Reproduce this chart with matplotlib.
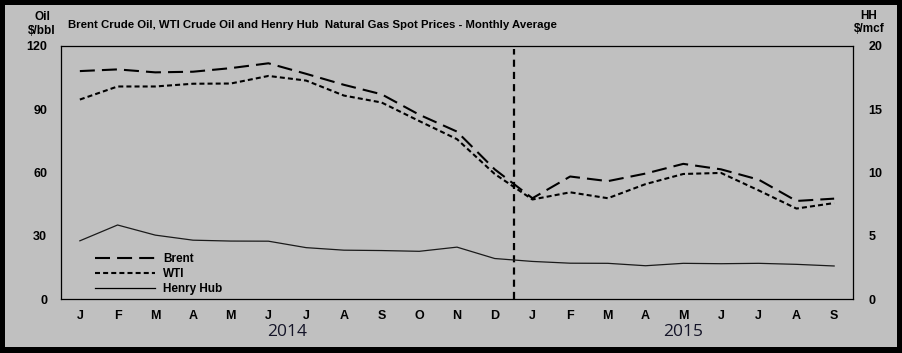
import matplotlib.pyplot as plt
from matplotlib.patches import Rectangle

# monthly averages, Jan 2014 - Sep 2015
months = ['J', 'F', 'M', 'A', 'M', 'J', 'J', 'A', 'S', 'O', 'N', 'D',
          'J', 'F', 'M', 'A', 'M', 'J', 'J', 'A', 'S']
brent = [108.1, 108.9, 107.5, 107.8, 109.5, 111.8, 106.8, 101.6, 97.1, 87.4, 79.4, 61.5,
         47.8, 58.1, 55.9, 59.5, 64.1, 61.5, 56.6, 46.5, 47.6]
wti = [94.6, 100.8, 100.8, 102.1, 102.2, 105.8, 103.6, 96.5, 93.2, 84.4, 75.8, 59.3,
       47.2, 50.6, 47.8, 54.5, 59.3, 59.8, 51.5, 42.9, 45.5]
henry_hub = [4.6, 5.85, 5.05, 4.65, 4.58, 4.57, 4.06, 3.86, 3.83, 3.77, 4.1, 3.2,
             2.97, 2.83, 2.82, 2.63, 2.82, 2.79, 2.82, 2.74, 2.61]
years = ['2014', '2015']

bg = '#c0c0c0'
W, H = 903, 353

fig = plt.figure(figsize=(W / 100, H / 100), dpi=100, facecolor='black')
fig.patches.append(Rectangle((5 / W, 6 / H), 892 / W, 342 / H, transform=fig.transFigure,
                             facecolor=bg, edgecolor='none', zorder=-5))

ax = fig.add_axes([61 / W, (H - 299) / H, 792 / W, 253 / H])
ax.set_facecolor('none')
x = list(range(len(months)))

ax.plot(x, brent, color='black', lw=1.5, dashes=(7.2, 3.4), label='Brent')
ax.plot(x, wti, color='black', lw=1.5, dashes=(2.4, 1.5), label='WTI')
ax.plot([], [], color='black', lw=0.9, label='Henry Hub')
ax.axvline(11.5, ymax=0.99, color='black', lw=1.6, dashes=(3.2, 2.3))

ax.set_xlim(-0.5, len(months) - 0.5)
ax.set_ylim(0, 120)
ax.set_yticks([0, 30, 60, 90, 120])
ax.set_xticks(x)
ax.set_xticklabels(months)
for s in ax.spines.values():
    s.set_linewidth(0.9)
ax.tick_params(length=0, labelsize=9)
ax.tick_params(axis='y', pad=10)
ax.tick_params(axis='x', pad=8)
for t in ax.get_xticklabels() + ax.get_yticklabels():
    t.set_fontweight('bold')
    t.set_family('Liberation Sans')

ax2 = ax.twinx()
ax2.plot(x, henry_hub, color='#1a1a1a', lw=0.9)
ax2.set_ylim(0, 20)
ax2.set_yticks([0, 5, 10, 15, 20])
for s in ax2.spines.values():
    s.set_visible(False)
ax2.tick_params(length=0, labelsize=9, pad=11)
for t in ax2.get_yticklabels():
    t.set_fontweight('bold')
    t.set_family('Liberation Sans')

leg = ax.legend(loc='lower left', bbox_to_anchor=(0.043, 0.015), frameon=False,
                borderpad=0, borderaxespad=0, handlelength=5.1, handletextpad=0.65,
                labelspacing=0.25, prop={'family': 'Liberation Sans', 'weight': 'bold', 'size': 8.5})

ax.text(5.5, -0.13, years[0], transform=ax.get_xaxis_transform(), ha='center', va='center',
        fontsize=12.5, family='Open Sans', color='#141428')
ax.text(16, -0.13, years[1], transform=ax.get_xaxis_transform(), ha='center', va='center',
        fontsize=12.5, family='Open Sans', color='#141428')

fig.text(68 / W, 1 - 25 / H,
         'Brent Crude Oil, WTI Crude Oil and Henry Hub  Natural Gas Spot Prices - Monthly Average',
         ha='left', va='center', fontsize=8.2, fontweight='bold', family='Liberation Sans')
fig.text(42 / W, 1 - 24 / H, 'Oil\n$/bbl', ha='center', va='center', fontsize=8.5,
         fontweight='bold', family='Liberation Sans', linespacing=1.2)
fig.text(869 / W, 1 - 22.5 / H, 'HH\n$/mcf', ha='center', va='center', fontsize=8.5,
         fontweight='bold', family='Liberation Sans', linespacing=1.2)

fig.savefig('out.png', dpi=100, facecolor='black')
